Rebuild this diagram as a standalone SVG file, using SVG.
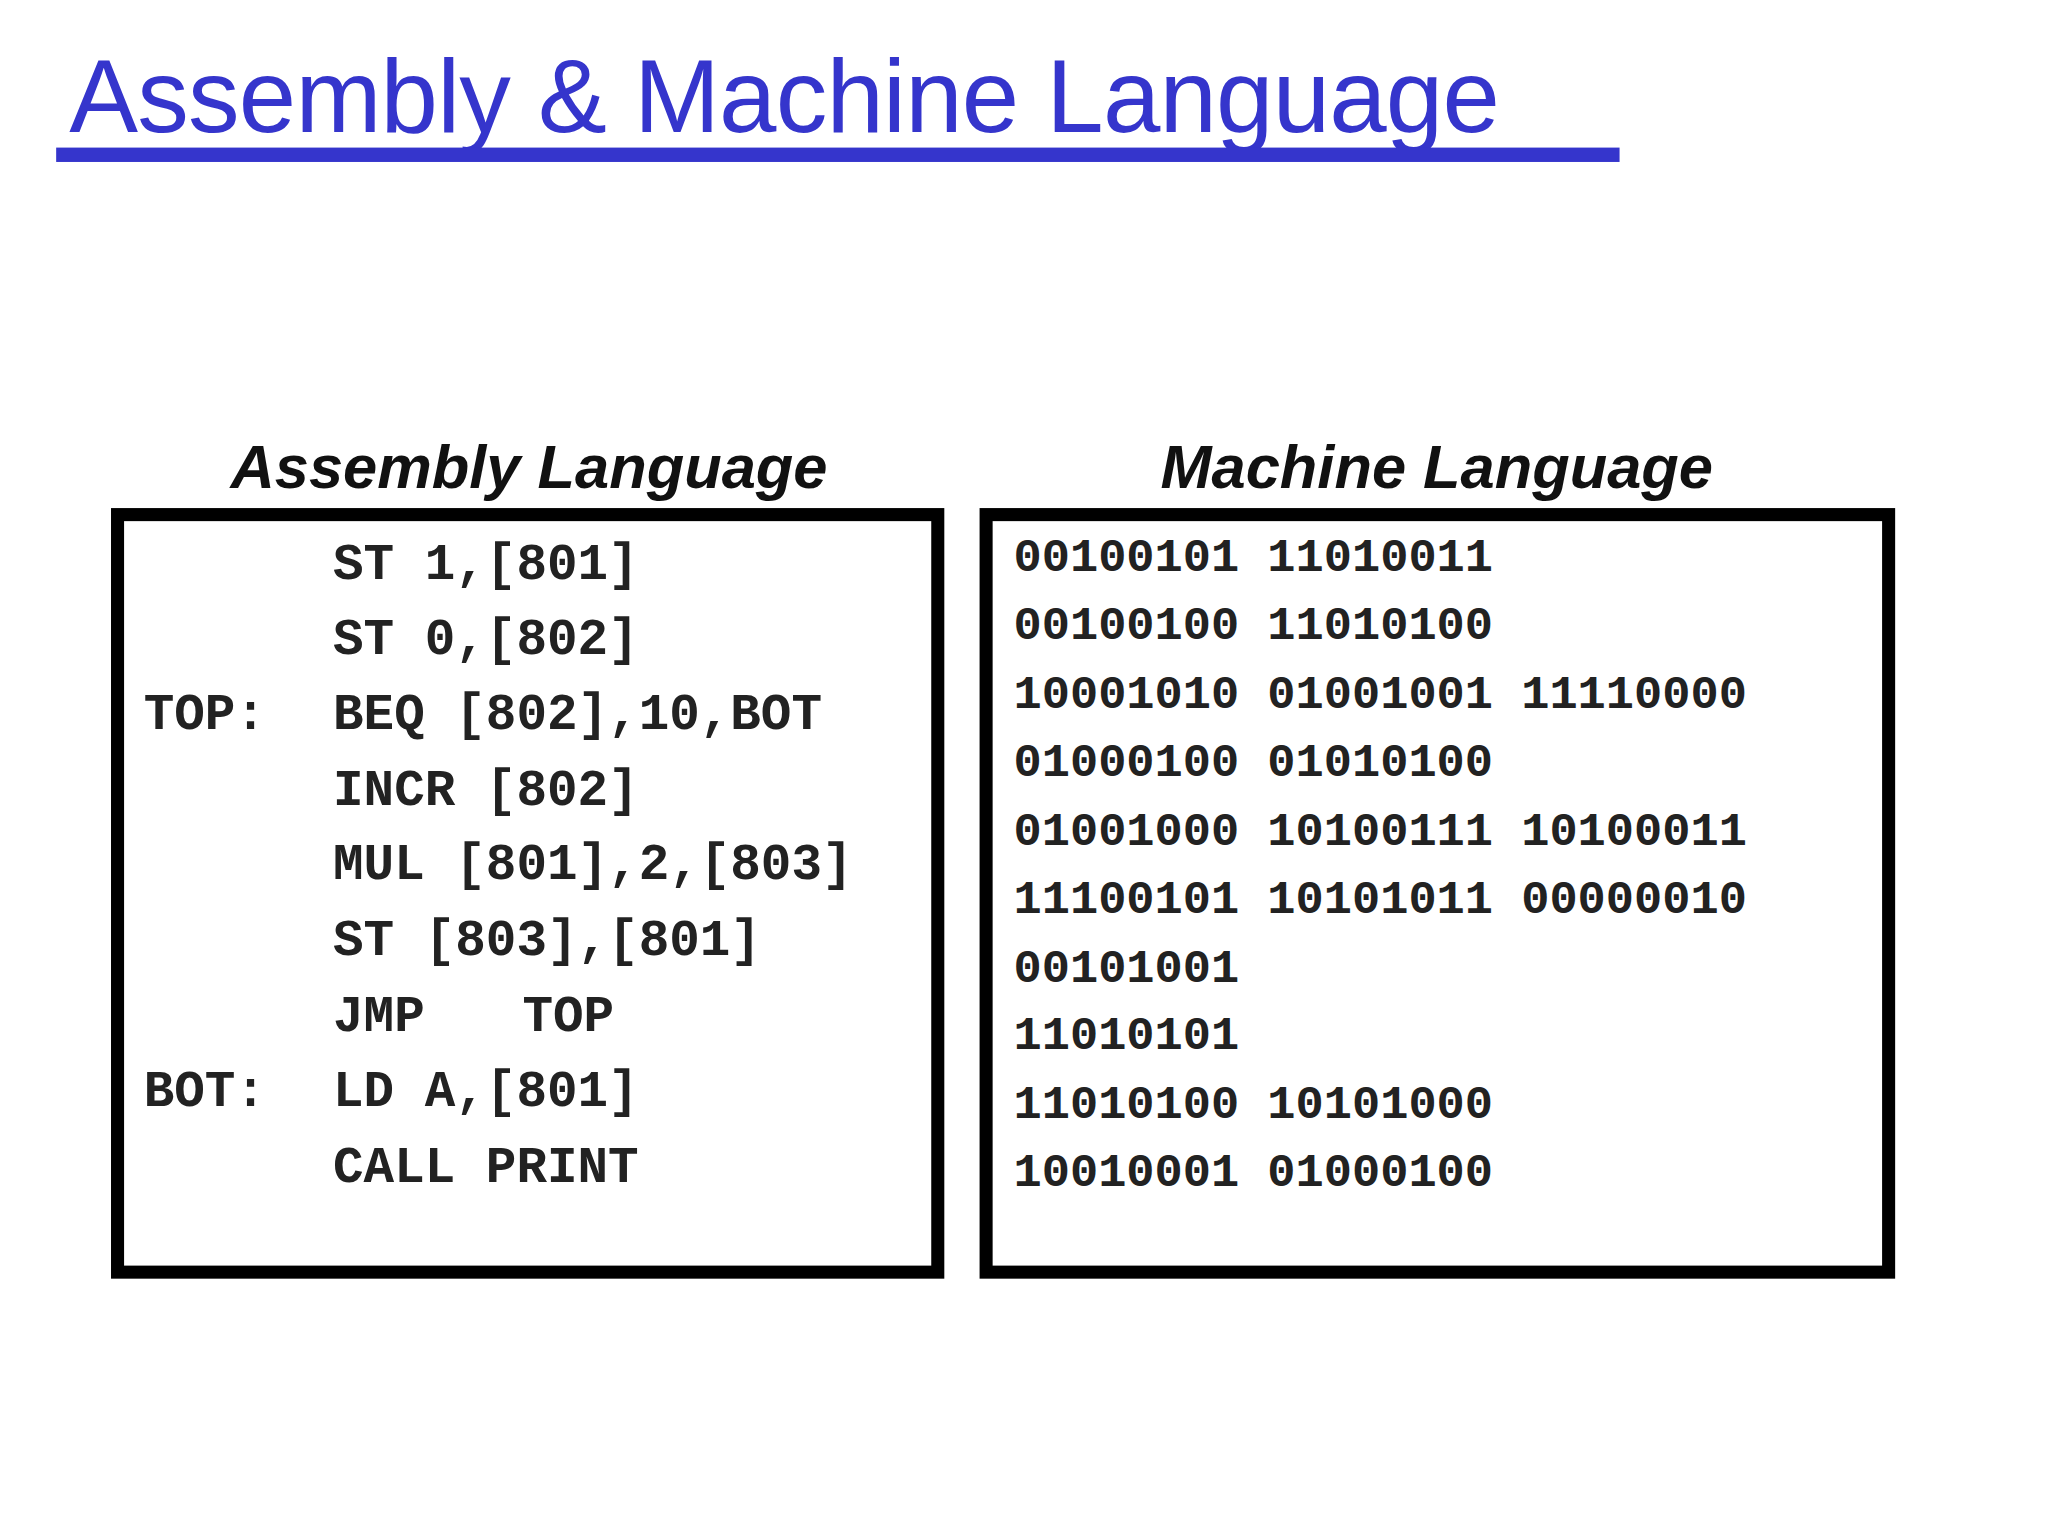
<svg xmlns="http://www.w3.org/2000/svg" width="2048" height="1536" viewBox="0 0 2048 1536">
<style>
.t{font-family:"Liberation Sans",Arial,sans-serif;font-size:79px;fill:#3535cc;letter-spacing:-0.6px}
.h{font-family:"Liberation Sans",Arial,sans-serif;font-size:47px;font-weight:bold;font-style:italic;fill:#111;text-anchor:middle}
.a{font-family:"Liberation Mono","Courier New",monospace;font-size:39px;font-weight:bold;fill:#222;white-space:pre}
.m{font-family:"Liberation Mono","Courier New",monospace;font-size:36px;font-weight:bold;fill:#222;white-space:pre}
.box{fill:#fff;stroke:#000;stroke-width:10}
</style>
<rect width="2048" height="1536" fill="#fff"/>
<g transform="scale(1.3061)">
<g id="title">
<text class="t" x="53" y="101">Assembly &amp; Machine Language</text>
<rect x="43" y="113" width="1197" height="11" fill="#3535cc"/>
</g>
<g id="assembly">
<text class="h" x="405" y="374">Assembly Language</text>
<rect class="box" x="90" y="394" width="628" height="580"/>
<g class="a">
<text x="255" y="443">ST 1,[801]</text>
<text x="255" y="501">ST 0,[802]</text>
<text x="110" y="558">TOP:</text><text x="255" y="558">BEQ [802],10,BOT</text>
<text x="255" y="616">INCR [802]</text>
<text x="255" y="673">MUL [801],2,[803]</text>
<text x="255" y="731">ST [803],[801]</text>
<text x="255" y="789">JMP</text><text x="400" y="789">TOP</text>
<text x="110" y="847">BOT:</text><text x="255" y="847">LD A,[801]</text>
<text x="255" y="905">CALL PRINT</text>
</g>
</g>
<g id="machine">
<text class="h" x="1100" y="374">Machine Language</text>
<rect class="box" x="755" y="394" width="691" height="580"/>
<g class="m">
<text x="776" y="437">00100101 11010011</text>
<text x="776" y="489">00100100 11010100</text>
<text x="776" y="542">10001010 01001001 11110000</text>
<text x="776" y="594">01000100 01010100</text>
<text x="776" y="647">01001000 10100111 10100011</text>
<text x="776" y="699">11100101 10101011 00000010</text>
<text x="776" y="752">00101001</text>
<text x="776" y="803">11010101</text>
<text x="776" y="856">11010100 10101000</text>
<text x="776" y="908">10010001 01000100</text>
</g>
</g>
</g>
</svg>
